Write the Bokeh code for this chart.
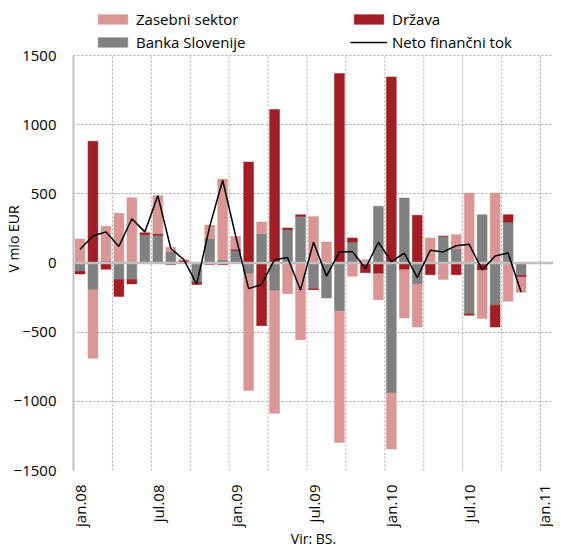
import math
import numpy as np
from bokeh.plotting import figure
from bokeh.models import (ColumnDataSource, Range1d, FixedTicker, Span,
                          Legend, LegendItem)
from bokeh.embed import file_html
from bokeh.resources import INLINE

# ---------------- data (EUR million) ----------------
month_names = ["jan", "feb", "mar", "apr", "maj", "jun",
               "jul", "avg", "sep", "okt", "nov", "dec"]
years = ["08", "09", "10", "11"]
axis_months = [f"{m}.{y}" for y in years for m in month_names][:37]   # jan.08 .. jan.11

zasebni = [173, -496, 250, 359, 472, 5, 275, 30, 8, 0, 96, 583,
           94, -844, 84, -887, -222, -554, 337, 152, -950, -96, 24, -188,
           -405, -350, -311, 181, -120, 104, 506, -349, 506, -277, -110]
drzava = [-20, 880, -45, -123, -31, 15, 12, -10, 18, -15, -10, -12,
          10, 730, -453, 1109, 12, 12, -7, 0, 1369, 29, -70, -77,
          1345, -48, 345, -85, 0, -85, -9, -53, -157, 53, -12]
banka = [-60, -193, 15, -120, -120, 205, 200, 84, 0, -140, 178, 24,
         89, -77, 212, -200, 241, 337, -186, -253, -347, 152, 0, 410,
         -940, 470, -152, 0, 193, 101, -369, 349, -306, 296, -90]
neto = [100, 195, 225, 120, 320, 225, 487, 105, 25, -152, 265, 598,
        195, -185, -155, 24, 40, -195, 150, -95, 80, 84, -40, 150,
        10, 72, -105, 92, 80, 125, 135, -50, 50, 72, -210]

tick_labels = ["jan.08", "jul.08", "jan.09", "jul.09", "jan.10", "jul.10", "jan.11"]
y_ticks = [-1500, -1000, -500, 0, 500, 1000, 1500]

FONT = "Open Sans"
n = len(neto)
x = np.arange(n)

PLOT_H = 415      # px height of the value area
LEGEND_H = 48     # px reserved above it for the legend
y_lo, y_hi = y_ticks[0], y_ticks[-1]
y_top = y_hi + LEGEND_H * (y_hi - y_lo) / PLOT_H

p = figure(frame_width=480, frame_height=PLOT_H + LEGEND_H,
           x_range=Range1d(-0.5, len(axis_months) - 0.5),
           y_range=Range1d(y_lo, y_top),
           output_backend="svg", toolbar_location=None,
           min_border_left=65, min_border_right=0,
           min_border_top=7, min_border_bottom=0)
p.outline_line_color = None
p.background_fill_color = "white"

GRID_COLOR = "#a8a8a8"
GRID_DASH = "2 2"

# vertical dotted grid every 3 months (only over the value area)
vb = [k - 0.5 for k in range(3, len(axis_months), 3)]
gsrc = ColumnDataSource(dict(x=vb, y0=[y_lo] * len(vb), y1=[y_hi] * len(vb)))
g = p.segment(x0="x", x1="x", y0="y0", y1="y1", source=gsrc,
              line_color=GRID_COLOR, line_dash=GRID_DASH, line_width=1)
g.level = "underlay"

# stacked bars, positives and negatives stacked separately
series = [("Banka Slovenije", banka, "#808080"),
          ("Država", drzava, "#a21d24"),
          ("Zasebni sektor", zasebni, "#d99694")]
pos_base = np.zeros(n)
neg_base = np.zeros(n)
rend = {}
for name, vals, color in series:
    v = np.array(vals, dtype=float)
    bottom = np.where(v >= 0, pos_base, neg_base)
    top = bottom + v
    pos_base = np.where(v >= 0, top, pos_base)
    neg_base = np.where(v < 0, top, neg_base)
    src = ColumnDataSource(dict(x=x, top=top, bottom=bottom))
    rend[name] = p.vbar(x="x", top="top", bottom="bottom", width=0.76, source=src,
                        fill_color=color, line_color=color, line_width=0.5)

zero = Span(location=0, dimension="width", line_color="#bfbfbf", line_width=2.5)
p.add_layout(zero)

line_src = ColumnDataSource(dict(x=x, y=neto))
r_line = p.line(x="x", y="y", source=line_src, line_color="black", line_width=1.5)
r_line.level = "overlay"

# horizontal grid
p.xgrid.visible = False
p.yaxis.ticker = FixedTicker(ticks=y_ticks)
p.ygrid.grid_line_color = GRID_COLOR
p.ygrid.grid_line_dash = GRID_DASH
p.ygrid.grid_line_width = 1

# y axis
ya = p.yaxis[0]
ya.bounds = (y_lo, y_hi)
ya.axis_line_color = "#bfbfbf"
ya.axis_line_width = 2
ya.major_tick_line_color = None
ya.minor_tick_line_color = None
ya.major_tick_out = 0
ya.major_tick_in = 0
ya.minor_tick_out = 0
ya.minor_tick_in = 0
ya.major_label_standoff = 17
ya.major_label_text_font = FONT
ya.major_label_text_font_size = "15px"
ya.major_label_text_color = "black"
ya.axis_label = "V mio EUR"
ya.axis_label_standoff = -12
ya.axis_label_text_font = FONT
ya.axis_label_text_font_size = "14px"
ya.axis_label_text_font_style = "normal"
ya.axis_label_text_color = "black"

# x axis
tick_pos = [axis_months.index(t) for t in tick_labels]
xa = p.xaxis[0]
xa.ticker = FixedTicker(ticks=tick_pos)
xa.major_label_overrides = {tp: t for tp, t in zip(tick_pos, tick_labels)}
xa.major_label_orientation = math.pi / 2
xa.axis_line_color = None
xa.major_tick_line_color = None
xa.minor_tick_line_color = None
xa.major_tick_out = 0
xa.major_tick_in = 0
xa.minor_tick_out = 0
xa.minor_tick_in = 0
xa.major_label_standoff = 14
xa.major_label_text_font = FONT
xa.major_label_text_font_size = "15px"
xa.major_label_text_color = "black"
xa.axis_label = "Vir: BS."
xa.axis_label_standoff = -1
xa.axis_label_text_font = FONT
xa.axis_label_text_font_size = "14px"
xa.axis_label_text_font_style = "normal"
xa.axis_label_text_color = "black"

# legends (two columns) in the reserved strip above the value area
def make_legend(items, loc):
    return Legend(items=items, location=loc, orientation="vertical",
                  label_text_font=FONT, label_text_font_size="15px",
                  label_text_color="black", glyph_width=37, glyph_height=12,
                  label_standoff=5, spacing=3, padding=0, margin=0,
                  label_height=20, border_line_color=None,
                  background_fill_alpha=0)

leg1 = make_legend([LegendItem(label="Zasebni sektor", renderers=[rend["Zasebni sektor"]]),
                    LegendItem(label="Banka Slovenije", renderers=[rend["Banka Slovenije"]])],
                   (21, PLOT_H + 3))
leg2 = make_legend([LegendItem(label="Država", renderers=[rend["Država"]]),
                    LegendItem(label="Neto finančni tok", renderers=[r_line])],
                   (277, PLOT_H + 3))
p.add_layout(leg1)
p.add_layout(leg2)

open("out.html", "w").write(file_html(p, INLINE))
